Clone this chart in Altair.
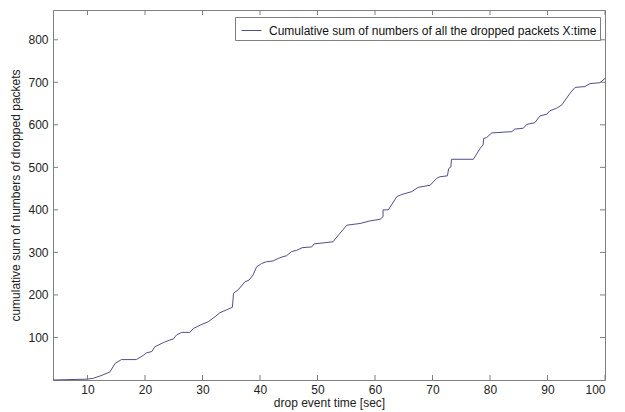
import altair as alt
import pandas as pd

# drop event time [sec]
times = [4, 10, 11, 12.5, 13.9, 14.8, 15.9, 18.5, 19.7, 20.3, 21.2, 21.7, 23.2, 24.3,
         24.9, 25.5, 26.4, 27.8, 28.4, 29.6, 31, 32.2, 33, 34.2, 35.2, 35.4, 36.2,
         37.4, 38.1, 38.8, 39.4, 40.3, 41.1, 42.3, 43.2, 44, 44.6, 45.5, 46.4, 47.3,
         49, 49.4, 52.7, 53.9, 55.1, 57.4, 59.1, 60.9, 61.4, 61.4, 62.3, 63.8, 64.6,
         66.4, 67.5, 69.6, 70.7, 71.3, 72.6, 72.8, 73.2, 73.3, 77.1, 78.3, 78.8, 78.9,
         79.4, 80.3, 83.8, 84.3, 85.8, 86.4, 87.8, 88.7, 89.9, 90.4, 91.6, 92.5, 93.9,
         94.8, 96.5, 97.4, 99.1, 100]
# cumulative sum of dropped packets
counts = [0, 2, 4, 11, 19, 39, 48, 48, 58, 64, 67, 78, 88, 94,
          96, 106, 112, 112, 121, 129, 137, 149, 158, 165, 171, 204, 212,
          231, 235, 247, 266, 274, 278, 280, 286, 290, 292, 302, 305, 311,
          313, 320, 325, 345, 364, 368, 374, 378, 384, 400, 400, 431, 436,
          443, 453, 458, 474, 478, 480, 497, 501, 519, 519, 545, 553, 568,
          570, 581, 584, 590, 592, 601, 605, 621, 625, 633, 639, 647, 674,
          688, 690, 697, 699, 709]
series_name = "Cumulative sum of numbers of all the dropped packets X:time"
x_ticks = [10, 20, 30, 40, 50, 60, 70, 80, 90, 100]
y_ticks = [100, 200, 300, 400, 500, 600, 700, 800]

W, H = 552, 370
FONT = "Liberation Sans"
LINE_COLOR = "#4f4f8c"
FRAME = "#7f7f7f"
TEXT = "#222222"

df = pd.DataFrame({"time": times, "count": counts,
                   "order": list(range(len(times))),
                   "series": [series_name] * len(times)})
xt = pd.DataFrame({"time": x_ticks})
yt = pd.DataFrame({"count": y_ticks})

xscale = alt.Scale(domain=[4, 100], nice=False, zero=False)
yscale = alt.Scale(domain=[0, 870], nice=False, zero=False)

common = dict(ticks=False, domain=False, grid=False, labelFont=FONT, labelFontSize=12,
              labelColor=TEXT, titleFont=FONT, titleFontSize=12,
              titleFontWeight="normal", titleColor=TEXT)
xaxis = alt.Axis(values=x_ticks, title="drop event time [sec]", labelPadding=4,
                 titlePadding=2, **common)
yaxis = alt.Axis(values=y_ticks, title="cumulative sum of numbers of dropped packets",
                 labelPadding=5, titlePadding=5, **common)

line = alt.Chart(df).mark_line(strokeWidth=1).encode(
    x=alt.X("time:Q", scale=xscale, axis=xaxis),
    y=alt.Y("count:Q", scale=yscale, axis=yaxis),
    order="order:Q",
    color=alt.Color("series:N", scale=alt.Scale(range=[LINE_COLOR]),
                    legend=alt.Legend(title=None, orient="none", legendX=182, legendY=7,
                                      symbolType="stroke", symbolSize=400,
                                      symbolStrokeWidth=1, fillColor="white",
                                      strokeColor=FRAME, padding=3, labelOffset=7,
                                      symbolOffset=3,
                                      labelFontSize=12, labelFont=FONT, labelLimit=0,
                                      labelColor="#111")),
)

tick_bottom = alt.Chart(xt).mark_rule(color=FRAME).encode(
    x=alt.X("time:Q", scale=xscale, axis=xaxis), y=alt.value(H), y2=alt.value(H - 5))
tick_top = alt.Chart(xt).mark_rule(color=FRAME).encode(
    x=alt.X("time:Q", scale=xscale, axis=xaxis), y=alt.value(0), y2=alt.value(5))
tick_left = alt.Chart(yt).mark_rule(color=FRAME).encode(
    y=alt.Y("count:Q", scale=yscale, axis=yaxis), x=alt.value(0), x2=alt.value(5))
tick_right = alt.Chart(yt).mark_rule(color=FRAME).encode(
    y=alt.Y("count:Q", scale=yscale, axis=yaxis), x=alt.value(W), x2=alt.value(W - 5))

chart = alt.layer(line, tick_bottom, tick_top, tick_left, tick_right).properties(
    width=W, height=H,
    background="white",
    autosize=alt.AutoSizeParams(type="none"),
    padding={"left": 45, "top": 2, "right": 12, "bottom": 30},
).configure_view(stroke=FRAME, strokeWidth=1)

chart.save("out.html", embed_options={"renderer": "svg", "actions": False})
